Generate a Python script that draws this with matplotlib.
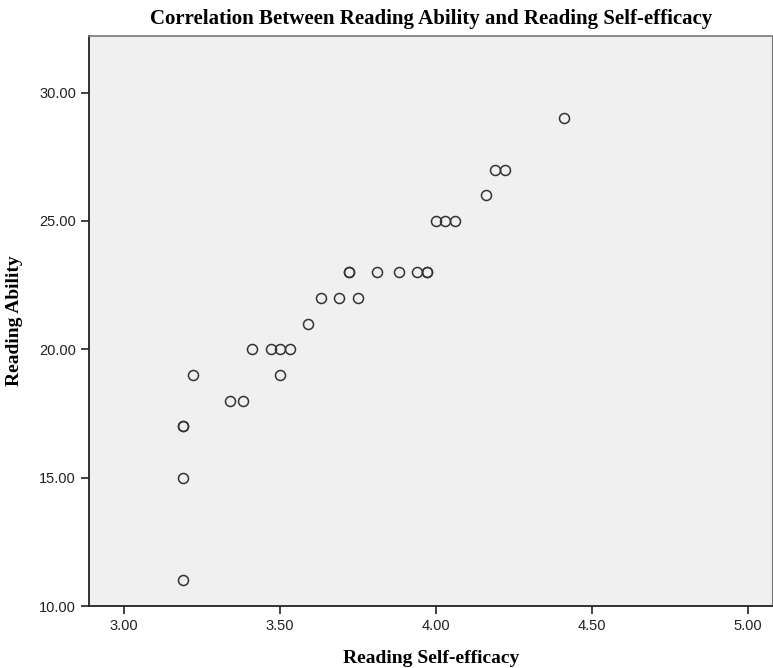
import matplotlib
matplotlib.use("Agg")
import matplotlib.pyplot as plt

# datos
self_efficacy = [3.19, 3.19, 3.19, 3.19, 3.22, 3.34, 3.38,
                 3.41, 3.47, 3.50, 3.53, 3.50, 3.59,
                 3.63, 3.69, 3.75,
                 3.72, 3.72, 3.81, 3.88, 3.94, 3.97, 3.97,
                 4.00, 4.03, 4.06, 4.16, 4.19, 4.22, 4.41]
reading_ability = [11, 15, 17, 17, 19, 18, 18,
                   20, 20, 20, 20, 19, 21,
                   22, 22, 22,
                   23, 23, 23, 23, 23, 23, 23,
                   25, 25, 25, 26, 27, 27, 29]

x_ticks = [3.0, 3.5, 4.0, 4.5, 5.0]
y_ticks = [10, 15, 20, 25, 30]

fig = plt.figure(figsize=(7.73, 6.68), dpi=100)
ax = fig.add_axes([0.1155, 0.0928, 0.8832, 0.8532])
ax.set_facecolor("#F0F0F0")

ax.plot(self_efficacy, reading_ability, "o", markersize=7.2,
        markerfacecolor="none", markeredgecolor="#333333", markeredgewidth=1.1)

ax.set_xlim(2.888, 5.077)
ax.set_ylim(10, 32.2)
ax.set_xticks(x_ticks)
ax.set_xticklabels([f"{v:.2f}" for v in x_ticks])
ax.set_yticks(y_ticks)
ax.set_yticklabels([f"{v:.2f}" for v in y_ticks])
ax.tick_params(direction="out", length=6, width=1.2, color="#222222",
               labelsize=10.5, labelcolor="#222222")
for lab in ax.get_xticklabels() + ax.get_yticklabels():
    lab.set_family("Liberation Sans")

for s in ["left", "bottom"]:
    ax.spines[s].set_linewidth(1.3)
    ax.spines[s].set_color("#222222")
ax.spines["top"].set_color("#777777")
ax.spines["top"].set_linewidth(1.2)
ax.spines["right"].set_color("#777777")

ax.set_title("Correlation Between Reading Ability and Reading Self-efficacy",
             family="Liberation Serif", fontweight="bold", fontsize=15, pad=9)
ax.set_xlabel("Reading Self-efficacy", family="Liberation Serif",
              fontweight="bold", fontsize=14, labelpad=12)
ax.set_ylabel("Reading Ability", family="Liberation Serif",
              fontweight="bold", fontsize=14, labelpad=12)

fig.savefig("out.png", dpi=100)
